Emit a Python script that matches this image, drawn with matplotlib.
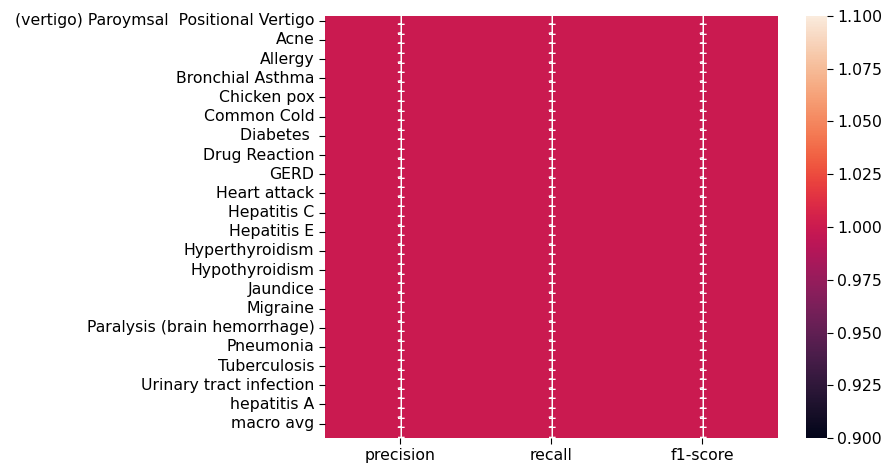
import matplotlib
matplotlib.use("Agg")
import matplotlib.pyplot as plt
import numpy as np
import pandas as pd
import seaborn as sns

# classes from the classification report (sorted), plus summary rows
classes = [
    "(vertigo) Paroymsal  Positional Vertigo", "AIDS", "Acne", "Alcoholic hepatitis",
    "Allergy", "Arthritis", "Bronchial Asthma", "Cervical spondylosis", "Chicken pox",
    "Chronic cholestasis", "Common Cold", "Dengue", "Diabetes ",
    "Dimorphic hemmorhoids(piles)", "Drug Reaction", "Fungal infection", "GERD",
    "Gastroenteritis", "Heart attack", "Hepatitis B", "Hepatitis C", "Hepatitis D",
    "Hepatitis E", "Hypertension ", "Hyperthyroidism", "Hypoglycemia", "Hypothyroidism",
    "Impetigo", "Jaundice", "Malaria", "Migraine", "Osteoarthristis",
    "Paralysis (brain hemorrhage)", "Peptic ulcer diseae", "Pneumonia", "Psoriasis",
    "Tuberculosis", "Typhoid", "Urinary tract infection", "Varicose veins", "hepatitis A",
    "accuracy", "macro avg", "weighted avg",
]
metrics = ["precision", "recall", "f1-score"]
precision = [1.0] * len(classes)
recall = [1.0] * len(classes)
f1_score = [1.0] * len(classes)

report = pd.DataFrame({"precision": precision, "recall": recall, "f1-score": f1_score},
                      index=classes)[metrics]

plt.rcParams["font.size"] = 11.3
plt.rcParams["xtick.major.size"] = 4
plt.rcParams["ytick.major.size"] = 4

fig = plt.figure(figsize=(8.85, 4.67), dpi=100)
ax = fig.add_axes([0.367, 0.062, 0.512, 0.904])
cax = fig.add_axes([0.911, 0.062, 0.023, 0.904])
sns.heatmap(report, annot=True, ax=ax, cbar_ax=cax)
plt.savefig("out.png", dpi=100)
